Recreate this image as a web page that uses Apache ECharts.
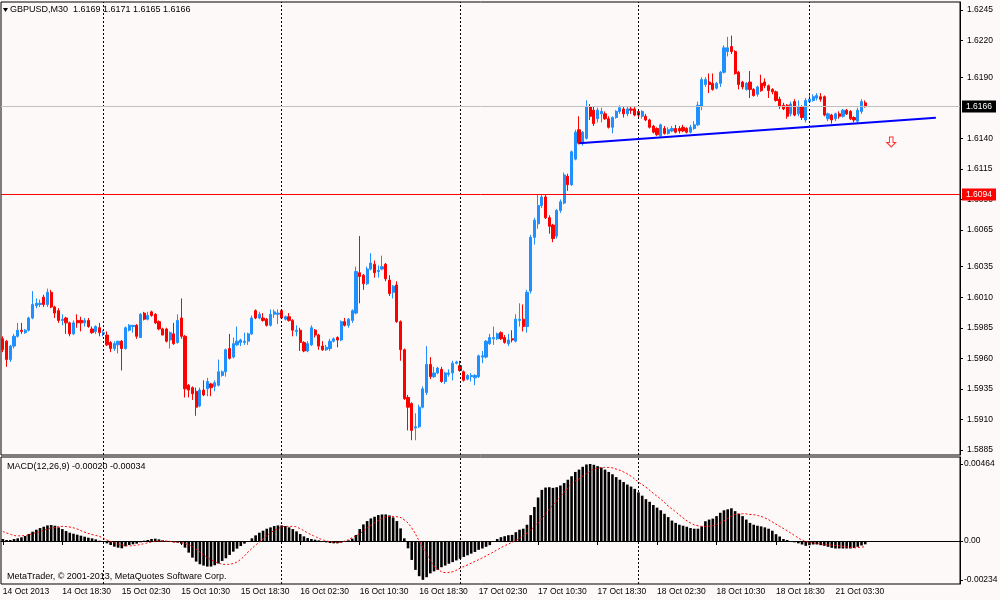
<!DOCTYPE html>
<html>
<head>
<meta charset="utf-8">
<title>GBPUSD,M30</title>
<script src="https://cdn.jsdelivr.net/npm/echarts@6.0.0/dist/echarts.min.js"></script>
<style>
  html, body { margin: 0; padding: 0; background: #fdf9f8; }
  #chart { width: 1000px; height: 600px; }
</style>
</head>
<body>
<div id="chart"></div>
<script>
// M30 bars from 14 Oct 2013 10:30, rows are [open, close, low, high]
const candles = [
  [1.5976,1.5967,1.5965,1.5978],[1.5974,1.5959,1.5953,1.5975],[1.5959,1.5970,1.5957,1.5971],[1.5970,1.5978,1.5968,1.5980],
  [1.5978,1.5983,1.5977,1.5989],[1.5983,1.5982,1.5980,1.5989],[1.5981,1.5983,1.5980,1.5984],[1.5983,1.5993,1.5982,1.5994],
  [1.5993,1.6004,1.5992,1.6015],[1.6003,1.6005,1.6001,1.6009],[1.6004,1.6005,1.6002,1.6008],[1.6010,1.6004,1.6002,1.6012],
  [1.6004,1.6014,1.6002,1.6017],[1.6014,1.6002,1.6001,1.6016],[1.6002,1.5997,1.5993,1.6003],[1.5999,1.5991,1.5989,1.6001],
  [1.5991,1.5992,1.5987,1.5996],[1.5993,1.5989,1.5980,1.5994],[1.5989,1.5980,1.5978,1.5990],[1.5980,1.5989,1.5979,1.5991],
  [1.5991,1.5989,1.5985,1.5996],[1.5991,1.5989,1.5982,1.5994],[1.5989,1.5991,1.5986,1.5993],[1.5991,1.5986,1.5985,1.5993],
  [1.5984,1.5981,1.5980,1.5986],[1.5982,1.5986,1.5980,1.5987],[1.5985,1.5981,1.5978,1.5989],[1.5980,1.5981,1.5978,1.5983],
  [1.5979,1.5971,1.5970,1.5982],[1.5973,1.5968,1.5965,1.5974],[1.5968,1.5972,1.5966,1.5974],[1.5971,1.5974,1.5964,1.5974],
  [1.5974,1.5968,1.5950,1.5975],[1.5968,1.5985,1.5967,1.5986],[1.5983,1.5987,1.5982,1.5988],[1.5986,1.5987,1.5981,1.5987],
  [1.5987,1.5978,1.5976,1.5988],[1.5977,1.5996,1.5977,1.5997],[1.5997,1.5992,1.5991,1.5998],[1.5992,1.5995,1.5991,1.5998],
  [1.5998,1.5995,1.5994,1.5999],[1.5996,1.5989,1.5988,1.5997],[1.5990,1.5984,1.5983,1.5991],[1.5984,1.5979,1.5979,1.5985],
  [1.5984,1.5974,1.5973,1.5985],[1.5975,1.5981,1.5968,1.5982],[1.5980,1.5972,1.5971,1.5989],[1.5973,1.5991,1.5972,1.5996],
  [1.5993,1.5978,1.5976,1.6009],[1.5978,1.5935,1.5928,1.5979],[1.5938,1.5934,1.5928,1.5939],[1.5936,1.5931,1.5926,1.5937],
  [1.5933,1.5920,1.5913,1.5936],[1.5921,1.5934,1.5920,1.5936],[1.5934,1.5930,1.5929,1.5942],[1.5935,1.5941,1.5929,1.5944],
  [1.5939,1.5936,1.5929,1.5940],[1.5937,1.5940,1.5933,1.5942],[1.5938,1.5949,1.5937,1.5959],[1.5946,1.5949,1.5945,1.5950],
  [1.5949,1.5967,1.5945,1.5968],[1.5968,1.5960,1.5959,1.5980],[1.5961,1.5972,1.5960,1.5977],[1.5971,1.5974,1.5970,1.5986],
  [1.5973,1.5975,1.5970,1.5976],[1.5973,1.5974,1.5971,1.5981],[1.5974,1.5980,1.5971,1.5981],[1.5980,1.5993,1.5979,1.5995],
  [1.5999,1.5993,1.5992,1.6000],[1.5993,1.5996,1.5992,1.5998],[1.5993,1.5991,1.5990,1.5997],[1.5992,1.5987,1.5986,1.5993],
  [1.5987,1.5996,1.5986,1.6000],[1.5996,1.5998,1.5993,1.6000],[1.5996,1.5997,1.5988,1.6000],[1.5999,1.5993,1.5992,1.6000],
  [1.5992,1.5994,1.5991,1.5995],[1.5994,1.5991,1.5990,1.5997],[1.5991,1.5983,1.5978,1.5992],[1.5982,1.5983,1.5978,1.5987],
  [1.5983,1.5973,1.5966,1.5985],[1.5973,1.5966,1.5965,1.5974],[1.5966,1.5972,1.5965,1.5974],[1.5971,1.5985,1.5970,1.5987],
  [1.5983,1.5979,1.5977,1.5984],[1.5979,1.5970,1.5967,1.5980],[1.5970,1.5967,1.5966,1.5974],[1.5967,1.5969,1.5966,1.5971],
  [1.5968,1.5974,1.5966,1.5976],[1.5974,1.5976,1.5973,1.5977],[1.5977,1.5975,1.5969,1.5978],[1.5975,1.5990,1.5974,1.5991],
  [1.5990,1.5987,1.5986,1.5993],[1.5987,1.5992,1.5985,1.5993],[1.5991,1.5999,1.5989,1.6000],[1.5997,1.6031,1.5996,1.6035],
  [1.6030,1.6027,1.6005,1.6060],[1.6028,1.6021,1.6016,1.6029],[1.6021,1.6033,1.6020,1.6035],[1.6033,1.6038,1.6032,1.6046],
  [1.6037,1.6030,1.6026,1.6040],[1.6031,1.6032,1.6026,1.6036],[1.6033,1.6035,1.6032,1.6044],[1.6037,1.6025,1.6023,1.6038],
  [1.6024,1.6013,1.6011,1.6028],[1.6014,1.6019,1.6009,1.6020],[1.6020,1.5990,1.5989,1.6023],[1.5990,1.5967,1.5958,1.5991],
  [1.5967,1.5927,1.5926,1.5968],[1.5928,1.5920,1.5901,1.5930],[1.5923,1.5901,1.5893,1.5924],[1.5903,1.5904,1.5893,1.5915],
  [1.5904,1.5920,1.5903,1.5922],[1.5920,1.5935,1.5919,1.5937],[1.5932,1.5955,1.5930,1.5970],[1.5955,1.5945,1.5943,1.5961],
  [1.5945,1.5948,1.5944,1.5953],[1.5948,1.5952,1.5947,1.5953],[1.5951,1.5941,1.5940,1.5953],[1.5941,1.5948,1.5939,1.5949],
  [1.5947,1.5948,1.5945,1.5951],[1.5948,1.5956,1.5942,1.5958],[1.5956,1.5957,1.5955,1.5958],[1.5954,1.5950,1.5949,1.5958],
  [1.5949,1.5942,1.5941,1.5950],[1.5943,1.5946,1.5942,1.5947],[1.5945,1.5946,1.5941,1.5948],[1.5944,1.5946,1.5938,1.5947],
  [1.5945,1.5962,1.5944,1.5963],[1.5961,1.5962,1.5956,1.5966],[1.5961,1.5974,1.5960,1.5975],[1.5972,1.5977,1.5971,1.5980],
  [1.5976,1.5977,1.5971,1.5986],[1.5976,1.5980,1.5975,1.5981],[1.5981,1.5976,1.5975,1.5982],[1.5977,1.5973,1.5972,1.5979],
  [1.5972,1.5975,1.5970,1.5980],[1.5976,1.5975,1.5973,1.5983],[1.5974,1.5992,1.5973,1.5996],[1.5991,1.5992,1.5986,1.6005],
  [1.5992,1.5986,1.5982,1.6004],[1.5986,1.6014,1.5981,1.6016],[1.6015,1.6059,1.6013,1.6061],[1.6059,1.6073,1.6053,1.6075],
  [1.6070,1.6085,1.6066,1.6094],[1.6085,1.6092,1.6083,1.6094],[1.6092,1.6075,1.6074,1.6094],[1.6075,1.6068,1.6062,1.6077],
  [1.6069,1.6058,1.6055,1.6070],[1.6060,1.6081,1.6058,1.6082],[1.6081,1.6088,1.6079,1.6090],[1.6087,1.6110,1.6086,1.6112],
  [1.6109,1.6102,1.6097,1.6111],[1.6102,1.6129,1.6101,1.6130],[1.6123,1.6145,1.6122,1.6147],[1.6147,1.6136,1.6135,1.6158],
  [1.6136,1.6145,1.6134,1.6146],[1.6140,1.6166,1.6139,1.6171],[1.6166,1.6158,1.6155,1.6168],[1.6163,1.6152,1.6150,1.6166],
  [1.6156,1.6163,1.6153,1.6165],[1.6160,1.6162,1.6153,1.6165],[1.6160,1.6156,1.6155,1.6162],[1.6156,1.6149,1.6148,1.6158],
  [1.6149,1.6157,1.6144,1.6158],[1.6157,1.6162,1.6156,1.6163],[1.6162,1.6165,1.6160,1.6167],[1.6164,1.6160,1.6157,1.6166],
  [1.6160,1.6164,1.6158,1.6166],[1.6164,1.6163,1.6160,1.6166],[1.6164,1.6159,1.6158,1.6166],[1.6162,1.6159,1.6157,1.6163],
  [1.6158,1.6162,1.6156,1.6163],[1.6158,1.6155,1.6154,1.6160],[1.6155,1.6149,1.6148,1.6156],[1.6150,1.6145,1.6144,1.6151],
  [1.6148,1.6143,1.6142,1.6149],[1.6142,1.6151,1.6141,1.6152],[1.6148,1.6144,1.6143,1.6150],[1.6144,1.6147,1.6143,1.6149],
  [1.6146,1.6148,1.6145,1.6150],[1.6148,1.6145,1.6144,1.6151],[1.6148,1.6146,1.6144,1.6150],[1.6149,1.6146,1.6145,1.6151],
  [1.6148,1.6145,1.6144,1.6149],[1.6145,1.6149,1.6144,1.6151],[1.6148,1.6151,1.6147,1.6154],[1.6151,1.6167,1.6150,1.6170],
  [1.6166,1.6188,1.6163,1.6190],[1.6184,1.6188,1.6182,1.6190],[1.6186,1.6184,1.6177,1.6193],[1.6185,1.6180,1.6179,1.6193],
  [1.6181,1.6185,1.6180,1.6186],[1.6185,1.6194,1.6182,1.6195],[1.6194,1.6214,1.6193,1.6216],[1.6211,1.6214,1.6207,1.6223],
  [1.6215,1.6211,1.6209,1.6224],[1.6211,1.6193,1.6192,1.6212],[1.6194,1.6184,1.6180,1.6195],[1.6186,1.6182,1.6180,1.6187],
  [1.6180,1.6185,1.6179,1.6186],[1.6186,1.6180,1.6173,1.6195],[1.6180,1.6175,1.6174,1.6181],[1.6176,1.6182,1.6174,1.6183],
  [1.6185,1.6179,1.6178,1.6192],[1.6186,1.6183,1.6181,1.6189],[1.6183,1.6179,1.6173,1.6184],[1.6180,1.6178,1.6176,1.6181],
  [1.6178,1.6171,1.6170,1.6179],[1.6172,1.6166,1.6164,1.6174],[1.6167,1.6164,1.6163,1.6169],[1.6167,1.6158,1.6156,1.6168],
  [1.6160,1.6168,1.6158,1.6170],[1.6170,1.6159,1.6158,1.6172],[1.6160,1.6166,1.6158,1.6171],[1.6166,1.6157,1.6155,1.6167],
  [1.6155,1.6171,1.6153,1.6173],[1.6170,1.6172,1.6169,1.6176],[1.6171,1.6174,1.6170,1.6176],[1.6173,1.6175,1.6171,1.6177],
  [1.6174,1.6172,1.6170,1.6177],[1.6174,1.6159,1.6158,1.6175],[1.6156,1.6160,1.6154,1.6161],[1.6159,1.6155,1.6152,1.6160],
  [1.6156,1.6160,1.6154,1.6161],[1.6160,1.6158,1.6156,1.6162],[1.6158,1.6163,1.6157,1.6164],[1.6163,1.6160,1.6159,1.6164],
  [1.6162,1.6156,1.6155,1.6163],[1.6157,1.6155,1.6153,1.6158],[1.6154,1.6163,1.6152,1.6165],[1.6162,1.6170,1.6160,1.6172],
  [1.6169,1.6166,1.6165,1.6171]
];

// MACD(12,26,9) main values per bar, in units of 0.00001
const macdHistE5 = [
  12, 6, 6, 12, 16, 22, 30, 42, 56, 68,
  78, 86, 94, 96, 92, 82, 72, 60, 50, 44,
  38, 32, 26, 20, 16, 10, 2, -4, -14, -24,
  -34, -40, -44, -32, -24, -20, -16, -8, 2, 6,
  12, 14, 10, 4, -2, -6, -8, -10, -16, -40,
  -70, -100, -124, -140, -148, -154, -154, -146, -136, -120,
  -104, -84, -64, -46, -30, -16, -2, 16, 34, 50,
  62, 74, 82, 90, 94, 94, 90, 82, 72, 58,
  42, 28, 18, 12, 8, 4, -2, -8, -12, -14,
  -14, -10, -4, 4, 14, 36, 72, 100, 120, 136,
  146, 156, 160, 160, 154, 142, 120, 76, 16, -44,
  -114, -174, -212, -234, -218, -195, -183, -174, -158, -148,
  -137, -127, -117, -107, -96, -86, -76, -66, -53, -45,
  -35, -25, -4, 12, 23, 29, 35, 37, 53, 68,
  74, 98, 156, 205, 262, 308, 322, 324, 320, 324,
  334, 349, 369, 390, 416, 430, 447, 461, 464, 459,
  451, 443, 430, 416, 402, 385, 369, 355, 340, 328,
  314, 293, 273, 252, 236, 217, 201, 185, 164, 144,
  123, 109, 98, 92, 86, 78, 74, 74, 88, 119,
  129, 135, 150, 170, 185, 191, 197, 180, 164, 150,
  129, 109, 98, 92, 88, 82, 74, 62, 41, 27,
  12, 6, -4, -8, -14, -21, -29, -25, -21, -21,
  -25, -29, -35, -41, -45, -45, -45, -45, -45, -42,
  -35, -27, -20
];

// signal line read at [bar, value in 0.00001]
const signalE5 = [
  [0,57],[2,41],[4,31],[6,33],[8,45],[10,57],[12,72],[14,82],[16,88],[18,84],
  [20,72],[22,53],[24,39],[26,27],[28,6],[30,-10],[32,-23],[34,-29],[36,-25],[38,-16],
  [40,-6],[42,0],[44,0],[46,-6],[48,-10],[50,-23],[52,-49],[54,-84],[56,-113],[58,-133],
  [60,-141],[62,-135],[64,-110],[66,-66],[68,-25],[70,12],[72,49],[74,74],[76,88],[78,88],
  [80,74],[82,49],[84,27],[86,8],[88,-4],[90,-8],[92,0],[94,20],[96,45],[98,78],
  [100,109],[102,135],[104,148],[106,146],[108,127],[110,78],[112,0],[114,-80],[116,-150],[117,-170],
  [119,-190],[121,-185],[123,-164],[125,-144],[127,-123],[129,-102],[131,-78],[133,-53],[135,-29],[137,-8],
  [139,16],[141,47],[143,88],[145,135],[147,191],[149,242],[151,293],[153,344],[155,375],[157,406],
  [159,433],[161,441],[163,443],[165,433],[167,416],[169,390],[171,355],[173,324],[175,287],[177,252],
  [179,211],[181,176],[183,139],[185,109],[187,92],[189,88],[191,92],[193,109],[195,135],[197,160],
  [199,164],[201,160],[203,154],[205,139],[207,115],[209,88],[211,62],[213,33],[215,6],[217,-8],
  [219,-14],[221,-21],[223,-25],[225,-29],[227,-35],[229,-41],[231,-37],[232,-34]
];

const timeLabels = [
  '14 Oct 2013', '14 Oct 18:30', '15 Oct 02:30', '15 Oct 10:30', '15 Oct 18:30',
  '16 Oct 02:30', '16 Oct 10:30', '16 Oct 18:30', '17 Oct 02:30', '17 Oct 10:30',
  '17 Oct 18:30', '18 Oct 02:30', '18 Oct 10:30', '18 Oct 18:30', '21 Oct 03:30'
];
const labelEvery = 16;
const slotCount = 258;
const daySeparators = [27, 75, 123, 171, 217];

const priceTicks = [1.6245, 1.6220, 1.6190, 1.6140, 1.6115, 1.6090, 1.6065, 1.6035,
  1.6010, 1.5985, 1.5960, 1.5935, 1.5910, 1.5885];
const macdTicks = [0.00464, 0, -0.00234];
const macdTickText = ['0.00464', '0.00', '-0.00234'];

const bidPrice = 1.6166;
const levelPrice = 1.6094;
const trendLine = [[155, 1.6136], [251, 1.61569]];
const sellArrow = [[239, 1.6137]];

const headerText = 'GBPUSD,M30  1.6169 1.6171 1.6165 1.6166';
const macdText = 'MACD(12,26,9) -0.00020 -0.00034';
const copyText = 'MetaTrader, \u00a9 2001-2013, MetaQuotes Software Corp.';

const bg = '#fdf9f8';
const fontFamily = 'Tahoma, "Liberation Sans", Arial, sans-serif';
const slots = Array.from({ length: slotCount }, (_, i) => String(i));
const isLabelSlot = (i) => i % labelEvery === 0 && i / labelEvery < timeLabels.length;

const separatorStyle = { color: '#000', width: 1, type: [2, 2] };
const separatorLines = daySeparators.map((x) => ({ xAxis: x, lineStyle: separatorStyle }));

function priceLine(value, lineColor, boxColor) {
  return {
    yAxis: value,
    lineStyle: { color: lineColor, type: 'solid', width: 1 },
    label: {
      show: true, position: 'end', distance: 2, formatter: value.toFixed(4),
      backgroundColor: boxColor, color: '#fff', padding: [2, 4, 1, 4],
      fontSize: 8.5, fontFamily,
    },
  };
}

const chart = echarts.init(document.getElementById('chart'), null, { renderer: 'canvas' });

chart.setOption({
  animation: false,
  backgroundColor: bg,
  textStyle: { fontFamily },
  grid: [
    { left: 1, right: 40, top: 2, height: 453, show: true, backgroundColor: bg,
      borderColor: '#000', borderWidth: 1, outerBoundsMode: 'none' },
    { left: 1, right: 40, top: 457, height: 127, show: true, backgroundColor: bg,
      borderColor: '#000', borderWidth: 1, outerBoundsMode: 'none' },
  ],
  xAxis: [
    {
      type: 'category', gridIndex: 0, data: slots, boundaryGap: true,
      axisLine: { show: false }, axisTick: { show: false },
      axisLabel: { show: false }, splitLine: { show: false },
    },
    {
      type: 'category', gridIndex: 1, data: slots, boundaryGap: true,
      axisLine: { show: true, lineStyle: { color: '#000', width: 1 } },
      axisTick: {
        show: true, alignWithLabel: true, length: 4,
        interval: (i) => isLabelSlot(i),
        lineStyle: { color: '#000' },
      },
      axisLabel: {
        show: true, interval: (i) => isLabelSlot(i),
        formatter: (v, i) => timeLabels[i / labelEvery] || '',
        align: 'left', margin: 3, color: '#000', fontSize: 8.5, fontFamily,
      },
      splitLine: { show: false },
    },
  ],
  yAxis: [
    {
      type: 'value', gridIndex: 0, position: 'right',
      min: 1.58809, max: 1.62515, splitLine: { show: false },
      axisLine: { show: true, lineStyle: { color: '#000' } },
      axisTick: { show: true, customValues: priceTicks, length: 3, lineStyle: { color: '#000' } },
      axisLabel: {
        customValues: priceTicks, formatter: (v) => v.toFixed(4),
        margin: 7, color: '#000', fontSize: 8.5, fontFamily, padding: [0, 0, 4, 0],
      },
    },
    {
      type: 'value', gridIndex: 1, position: 'right',
      min: -0.00259, max: 0.00506, splitLine: { show: false },
      axisLine: { show: true, lineStyle: { color: '#000' } },
      axisTick: { show: true, customValues: macdTicks, length: 3, lineStyle: { color: '#000' } },
      axisLabel: {
        customValues: macdTicks,
        formatter: (v) => macdTickText[macdTicks.findIndex((t) => Math.abs(t - v) < 1e-7)] || '',
        margin: 4, color: '#000', fontSize: 8.5, fontFamily, padding: [0, 0, 4, 0],
      },
    },
  ],
  series: [
    {
      type: 'candlestick',
      xAxisIndex: 0, yAxisIndex: 0,
      data: candles,
      barWidth: '72%',
      itemStyle: {
        color: '#1e90ff', color0: '#ff0000',
        borderColor: '#1e90ff', borderColor0: '#ff0000', borderWidth: 1,
      },
      markLine: {
        silent: true, symbol: 'none', animation: false, precision: 6,
        label: { show: false },
        data: [
          ...separatorLines,
          priceLine(bidPrice, '#c0c0c0', '#000'),
          priceLine(levelPrice, '#ff0000', '#ff0000'),
          [
            { coord: trendLine[0], lineStyle: { color: '#0000ff', type: 'solid', width: 2 } },
            { coord: trendLine[1] },
          ],
        ],
      },
    },
    {
      type: 'scatter',
      xAxisIndex: 0, yAxisIndex: 0,
      data: sellArrow,
      symbol: 'path://M3,0 L7,0 L7,6 L10,6 L5,11 L0,6 L3,6 Z',
      symbolSize: [9, 10],
      silent: true,
      itemStyle: { color: 'rgba(255,255,255,0)', borderColor: '#ff0000', borderWidth: 1 },
    },
    {
      type: 'bar',
      xAxisIndex: 1, yAxisIndex: 1,
      data: macdHistE5.map((v) => v / 1e5),
      barWidth: '70%',
      itemStyle: { color: '#000' },
      markLine: {
        silent: true, symbol: 'none', animation: false,
        label: { show: false },
        data: separatorLines,
      },
    },
    {
      type: 'line',
      xAxisIndex: 1, yAxisIndex: 1,
      data: signalE5.map(([i, v]) => [i, v / 1e5]),
      symbol: 'none', smooth: true, silent: true,
      lineStyle: { color: '#ff0000', width: 1, type: [2, 2] },
    },
  ],
  graphic: [
    { type: 'polygon', z: 100, shape: { points: [[3, 8], [8, 8], [5.5, 12]] }, style: { fill: '#000' } },
    { type: 'text', z: 100, x: 10, y: 10,
      style: { text: headerText, fill: '#000', font: `9px ${fontFamily}`, verticalAlign: 'middle' } },
    { type: 'text', z: 100, x: 7, y: 467,
      style: { text: macdText, fill: '#000', font: `9px ${fontFamily}`, verticalAlign: 'middle' } },
    { type: 'text', z: 100, x: 7, y: 577,
      style: { text: copyText, fill: '#000', font: `9px ${fontFamily}`, verticalAlign: 'middle' } },
  ],
});
</script>
</body>
</html>
